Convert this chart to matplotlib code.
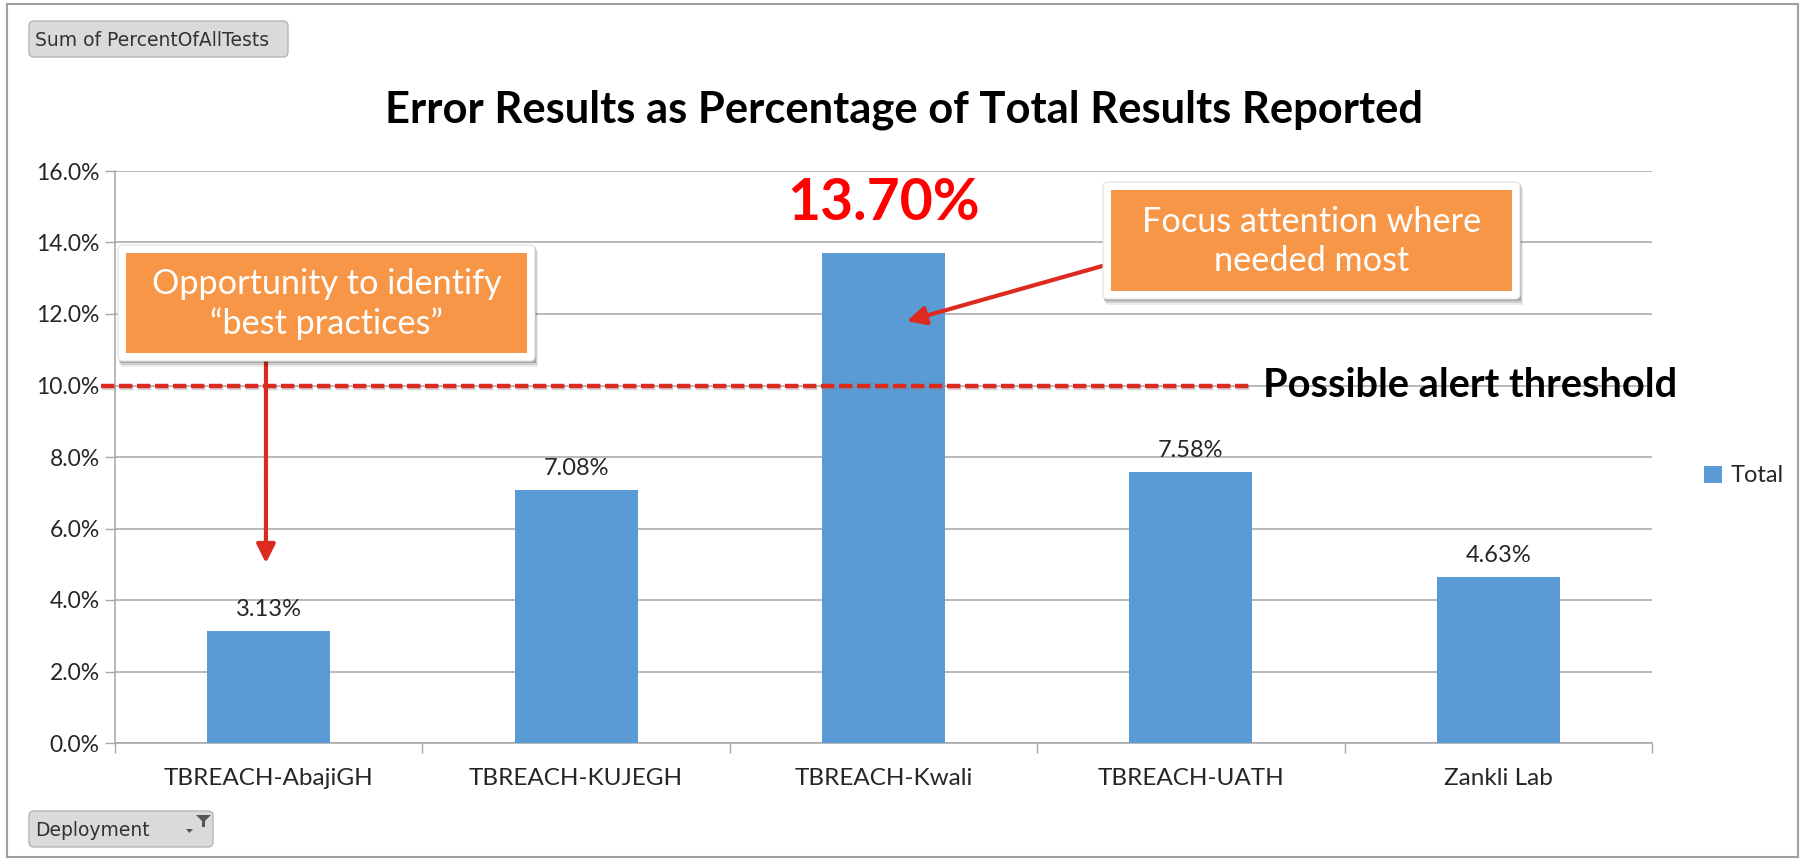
import matplotlib
matplotlib.use('Agg')
import matplotlib.pyplot as plt
import matplotlib.patches as patches
import matplotlib.transforms as mtransforms
from matplotlib.ticker import PercentFormatter, FixedLocator

# Data
categories = ['TBREACH-AbajiGH', 'TBREACH-KUJEGH', 'TBREACH-Kwali', 'TBREACH-UATH', 'Zankli Lab']
values = [0.0313, 0.0708, 0.1370, 0.0758, 0.0463]
series_name = 'Total'
threshold = 0.10
highlight = 2
yticks = [0.0, 0.02, 0.04, 0.06, 0.08, 0.10, 0.12, 0.14, 0.16]

# Colors
bar_color = '#5B9BD5'
orange_color = '#F79646'
red_color = '#DC2A1F'
grid_color = '#A6A6A6'
text_color = '#262626'

plt.rcParams['font.family'] = ['Lato', 'DejaVu Sans']

W, H = 1806, 860
fig = plt.figure(figsize=(W / 100, H / 100), dpi=100, facecolor='white')
# pixel coordinates measured from the top-left corner of the figure
pix = mtransforms.Affine2D().scale(1 / W, -1 / H).translate(0, 1) + fig.transFigure

ax = fig.add_axes([115 / W, 117 / H, 1537 / W, 572 / H])
x = list(range(len(categories)))
bars = ax.bar(x, values, width=0.4, color=bar_color, label=series_name, zorder=3)

ax.set_xlim(-0.5, len(categories) - 0.5)
ax.set_ylim(0, 0.16)
ax.set_yticks(yticks)
ax.yaxis.set_major_formatter(PercentFormatter(xmax=1, decimals=1))
ax.set_xticks(x)
ax.set_xticklabels(categories)
ax.xaxis.set_minor_locator(FixedLocator([i - 0.5 for i in range(len(categories) + 1)]))
ax.tick_params(axis='x', which='major', length=0, pad=18, labelsize=17.5, labelcolor=text_color)
ax.tick_params(axis='x', which='minor', length=7, width=1, color=grid_color, direction='out')
ax.tick_params(axis='y', length=7, width=1, color=grid_color, pad=4, labelsize=16.5, labelcolor=text_color)
ax.grid(axis='y', color=grid_color, linewidth=1.1, zorder=0)
for side in ['top', 'right']:
    ax.spines[side].set_visible(False)
for side in ['left', 'bottom']:
    ax.spines[side].set_color(grid_color)
    ax.spines[side].set_linewidth(1.1)

# Data labels (the highlighted bar gets a big red label instead)
labels = ['' if i == highlight else f'{v:.2%}' for i, v in enumerate(values)]
ax.bar_label(bars, labels=labels, padding=8, fontsize=17, color=text_color)
ax.annotate(f'{values[highlight]:.2%}', xy=(highlight, values[highlight]), xytext=(0, 36),
            textcoords='offset points', ha='center', va='center',
            fontsize=41, fontweight='bold', color='#FF0000')

# Threshold line
ax.plot([-0.546, 3.189], [threshold, threshold], color='#888888', alpha=0.35, lw=3.2,
        dashes=(3.0, 1.05), clip_on=False, zorder=4,
        transform=ax.transData + mtransforms.ScaledTranslation(1.5 / 100, -2 / 100, fig.dpi_scale_trans))
ax.plot([-0.546, 3.189], [threshold, threshold], color=red_color, lw=3.2,
        dashes=(3.0, 1.05), clip_on=False, zorder=5)
ax.text(3.234, threshold, 'Possible alert threshold', ha='left', va='center',
        fontsize=28.6, fontweight='bold', color='black')

# Legend
ax.legend(loc='center left', bbox_to_anchor=(1692 / W, 1 - 476 / H), bbox_transform=fig.transFigure,
          frameon=False, fontsize=17, handlelength=0.75, handleheight=0.75, handletextpad=0.4,
          borderpad=0, labelcolor=text_color)

# Title
fig.text(904, 110, 'Error Results as Percentage of Total Results Reported', transform=pix,
         ha='center', va='center', fontsize=31.3, fontweight='bold', color='black')


def callout(x0, y0, x1, y1, text):
    for k, a in [(6, 0.08), (4, 0.12), (2, 0.18)]:
        fig.patches.append(patches.Rectangle((x0 + k / 2, y0 + k), x1 - x0, y1 - y0, transform=pix,
                                             facecolor='black', alpha=a, edgecolor='none', zorder=6))
    fig.patches.append(patches.FancyBboxPatch((x0, y0), x1 - x0, y1 - y0, transform=pix,
                                              boxstyle='round,pad=0,rounding_size=5',
                                              facecolor='white', edgecolor='#E0E0E0', lw=0.8, zorder=7))
    fig.patches.append(patches.Rectangle((x0 + 8, y0 + 8), x1 - x0 - 16, y1 - y0 - 16, transform=pix,
                                         facecolor=orange_color, edgecolor='none', zorder=8))
    fig.text((x0 + x1) / 2, (y0 + y1) / 2 + 1, text, transform=pix, ha='center', va='center',
             fontsize=24.7, color='white', linespacing=1.3, zorder=9)


callout(118, 245, 535, 361, 'Opportunity to identify\n\u201cbest practices\u201d')
callout(1103, 182, 1520, 299, 'Focus attention where\nneeded most')

arrow = dict(arrowstyle='-|>', color=red_color, lw=3, mutation_scale=28, shrinkA=0, shrinkB=0)
ax.annotate('', xy=(-0.009, 0.0503), xytext=(266, 356), textcoords=pix, arrowprops=arrow, zorder=10)
ax.annotate('', xy=(2.076, 0.118), xytext=(1120, 261), textcoords=pix, arrowprops=arrow, zorder=10)


# Pivot-chart field buttons
def button(x0, y0, x1, y1, text):
    fig.patches.append(patches.FancyBboxPatch((x0, y0), x1 - x0, y1 - y0, transform=pix,
                                              boxstyle='round,pad=0,rounding_size=5',
                                              facecolor='#DADADA', edgecolor='#B5B5B5', lw=1))
    fig.text(x0 + 6, (y0 + y1) / 2 + 1, text, transform=pix, ha='left', va='center',
             fontsize=13.5, color='#333333', family='DejaVu Sans')


button(29, 21, 288, 57, 'Sum of PercentOfAllTests')
button(29, 811, 213, 847, 'Deployment')
fig.patches.append(patches.Polygon([(196, 815), (211, 815), (205, 821), (205, 827), (202, 827), (202, 821)],
                                   transform=pix, facecolor='#555555', edgecolor='none'))
fig.patches.append(patches.Polygon([(186, 829), (193, 829), (189.5, 833)], transform=pix,
                                   facecolor='#555555', edgecolor='none'))

# Outer frame
fig.patches.append(patches.Rectangle((7, 4), 1791, 853, transform=pix, facecolor='none',
                                     edgecolor='#A0A0A0', lw=1.5))

fig.savefig('out.png', dpi=100, facecolor='white')
